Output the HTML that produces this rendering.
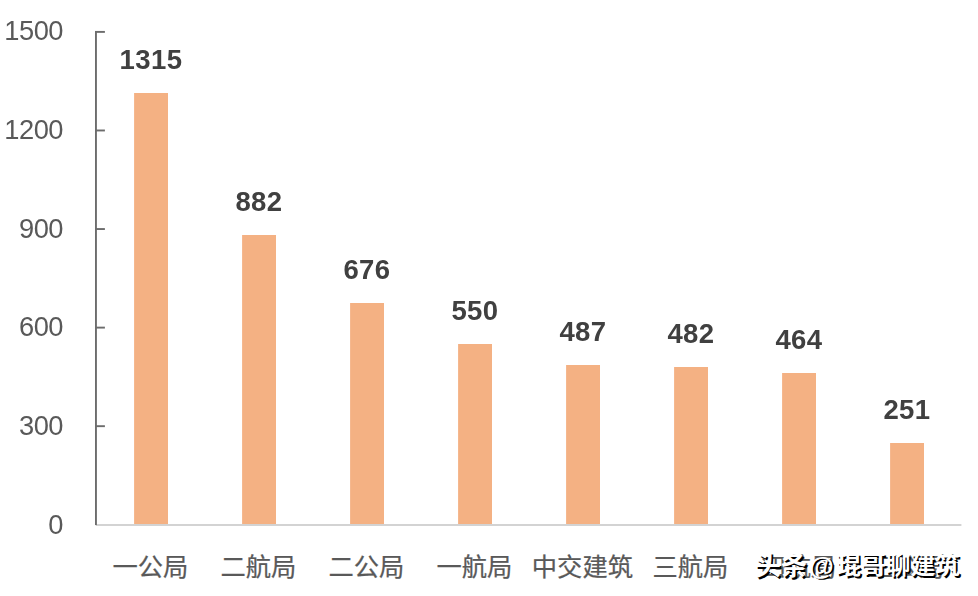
<!DOCTYPE html><html><head><meta charset="utf-8"><title>chart</title><style>

html,body{margin:0;padding:0;background:#fff;}
body{width:978px;height:596px;position:relative;overflow:hidden;font-family:"Liberation Sans",sans-serif;}
.yl{position:absolute;will-change:transform;letter-spacing:-0.5px;right:915px;width:90px;text-align:right;font-size:27.3px;line-height:30px;height:30px;color:#595959;white-space:nowrap;}
.dl{position:absolute;will-change:transform;letter-spacing:0.45px;width:108px;text-align:center;font-weight:bold;font-size:27.5px;line-height:30px;height:30px;color:#404040;white-space:nowrap;}
.cl{position:absolute;width:108px;text-align:center;font-size:25px;line-height:30px;height:30px;top:551px;color:transparent;white-space:nowrap;}
.wm{position:absolute;left:756px;top:551px;font-size:25px;line-height:30px;font-weight:bold;color:transparent;white-space:nowrap;}

</style></head><body>
<svg width="978" height="596" viewBox="0 0 978 596" style="position:absolute;left:0;top:0"><rect x="134.1" y="93.00" width="33.9" height="431.00" fill="#F4B183"/><rect x="242.1" y="235.00" width="33.9" height="289.00" fill="#F4B183"/><rect x="350.1" y="303.00" width="33.9" height="221.00" fill="#F4B183"/><rect x="458.1" y="344.00" width="33.9" height="180.00" fill="#F4B183"/><rect x="566.1" y="365.00" width="33.9" height="159.00" fill="#F4B183"/><rect x="674.1" y="367.00" width="33.9" height="157.00" fill="#F4B183"/><rect x="782.1" y="373.00" width="33.9" height="151.00" fill="#F4B183"/><rect x="890.1" y="443.00" width="33.9" height="81.00" fill="#F4B183"/><rect x="96" y="524" width="865.4" height="2" fill="#d3d3d3"/><rect x="95" y="31.1" width="1.9" height="494" fill="#6c6c6c"/><rect x="95" y="30.95" width="9.9" height="1.9" fill="#6c6c6c"/><rect x="95" y="129.52" width="9.9" height="1.9" fill="#6c6c6c"/><rect x="95" y="228.09" width="9.9" height="1.9" fill="#6c6c6c"/><rect x="95" y="326.66" width="9.9" height="1.9" fill="#6c6c6c"/><rect x="95" y="425.23" width="9.9" height="1.9" fill="#6c6c6c"/>
<g fill="#595959" stroke="#595959" stroke-width="0.23" font-size="25.3" font-family='"Liberation Sans", "Noto Sans CJK SC", sans-serif'>
<text x="112.45" y="575.60">一公局</text>
<text x="220.45" y="575.60">二航局</text>
<text x="328.45" y="575.60">二公局</text>
<text x="436.45" y="575.60">一航局</text>
<text x="531.80" y="575.60">中交建筑</text>
<text x="652.45" y="575.60">三航局</text>
<text x="760.45" y="575.60">四航局</text>
<text x="868.45" y="575.60">三公局</text>
</g>
<g fill="#000" font-weight="bold" font-family='"Liberation Sans", "Noto Sans CJK SC", sans-serif'>
<text x="756.50" y="576.50" font-size="26.2">头条</text>
<text x="811.10" y="576.20" font-size="25">@</text>
<text x="838.30" y="575.50" font-size="24.65">琨哥聊建筑</text>
</g>
<g fill="#fff" font-weight="bold" font-family='"Liberation Sans", "Noto Sans CJK SC", sans-serif'>
<text x="754.70" y="574.90" font-size="26.2">头条</text>
<text x="809.30" y="574.60" font-size="25">@</text>
<text x="836.50" y="573.90" font-size="24.65">琨哥聊建筑</text>
</g>
</svg>
<div class="yl" style="top:15.50px">1500</div>
<div class="yl" style="top:114.50px">1200</div>
<div class="yl" style="top:213.50px">900</div>
<div class="yl" style="top:311.50px">600</div>
<div class="yl" style="top:410.50px">300</div>
<div class="yl" style="top:509.50px">0</div>
<div class="dl" style="left:97.1px;top:44.50px">1315</div>
<div class="dl" style="left:205.1px;top:186.50px">882</div>
<div class="dl" style="left:313.1px;top:254.50px">676</div>
<div class="dl" style="left:421.1px;top:295.50px">550</div>
<div class="dl" style="left:529.1px;top:316.50px">487</div>
<div class="dl" style="left:637.1px;top:318.50px">482</div>
<div class="dl" style="left:745.1px;top:324.50px">464</div>
<div class="dl" style="left:853.1px;top:394.50px">251</div>
<div class="cl" style="left:97px">一公局</div>
<div class="cl" style="left:205px">二航局</div>
<div class="cl" style="left:313px">二公局</div>
<div class="cl" style="left:421px">一航局</div>
<div class="cl" style="left:529px">中交建筑</div>
<div class="cl" style="left:637px">三航局</div>
<div class="cl" style="left:745px">四航局</div>
<div class="cl" style="left:853px">三公局</div>
<div class="wm">头条 @琨哥聊建筑</div>
</body></html>
